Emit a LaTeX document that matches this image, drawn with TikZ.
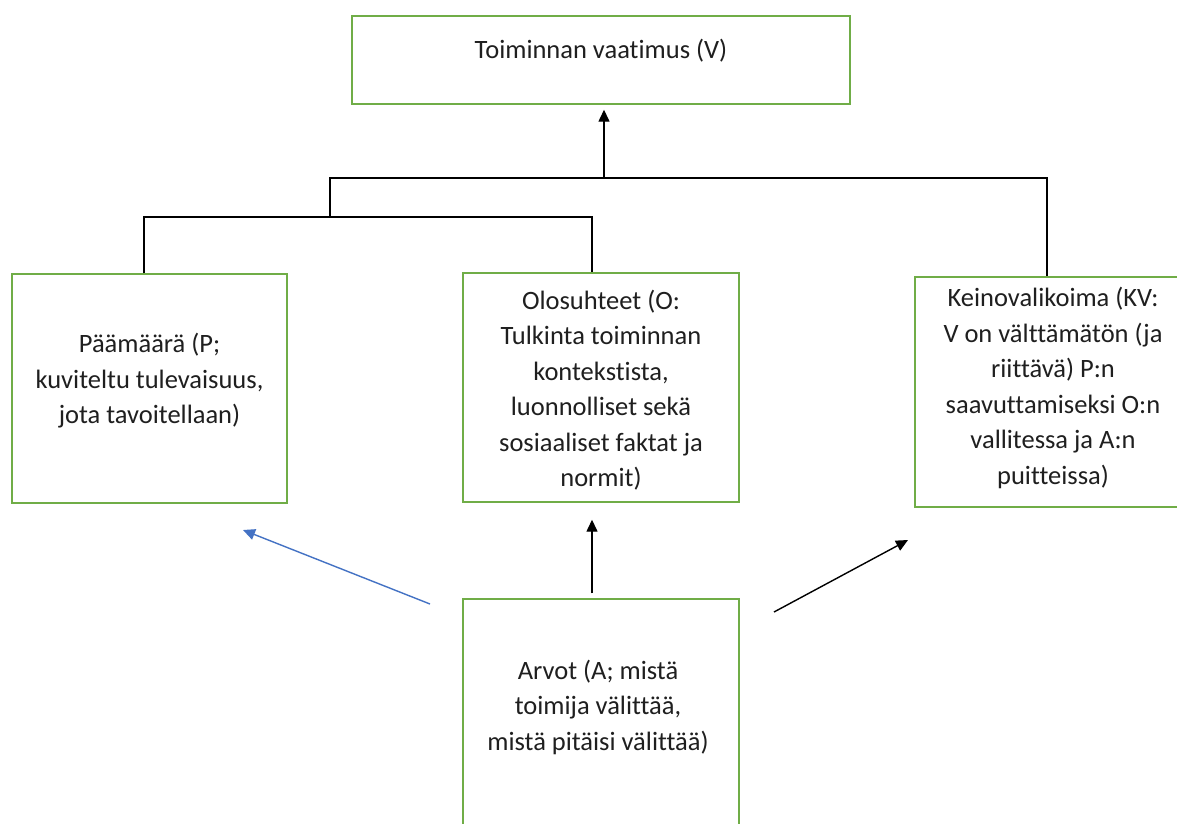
\documentclass[tikz,border=0pt]{standalone}
\usepackage{fontspec}
\setmainfont{Carlito}[Ligatures=NoCommon]
\usetikzlibrary{arrows.meta}
\definecolor{boxgreen}{HTML}{70AD47}
\definecolor{arrblue}{HTML}{4472C4}
\definecolor{txtcol}{HTML}{1F1F1F}
\tikzset{
  boxnode/.style={draw=boxgreen, line width=1.4pt, rectangle, inner sep=0pt},
  txtnode/.style={align=center, inner sep=0pt, text=txtcol, font=\fontsize{26.5}{35.5}\selectfont},
  conn/.style={line width=1.4pt, black},
  arr/.style={line width=1.4pt, black, -{Triangle[length=12pt,width=11pt]}},
  arrb/.style={line width=1.4pt, arrblue, -{Triangle[length=12pt,width=11pt]}}
}
\begin{document}
\begin{tikzpicture}[x=1pt,y=-1pt]
\useasboundingbox[fill=white] (0,0) rectangle (1177,823);
% boxes
\node[boxnode, minimum width=498pt, minimum height=88pt] (V) at (601,60) {};
\node[boxnode, minimum width=275pt, minimum height=229pt] (P) at (149.5,388.5) {};
\node[boxnode, minimum width=276pt, minimum height=229pt] (O) at (601,387.5) {};
\node[boxnode, minimum width=276pt, minimum height=230pt] (K) at (1053,392) {};
\node[boxnode, minimum width=276pt, minimum height=231pt] (A) at (601,714.5) {};
% texts
\node[txtnode] (Vt) at (601,51) {Toiminnan vaatimus (V)};
\node[txtnode] (Pt) at (149.5,381) {Päämäärä (P;\\kuviteltu tulevaisuus,\\jota tavoitellaan)};
\node[txtnode] (Ot) at (601,390) {Olosuhteet (O:\\Tulkinta toiminnan\\kontekstista,\\luonnolliset sekä\\sosiaaliset faktat ja\\normit)};
\node[txtnode] (Kt) at (1053,388) {Keinovalikoima (KV:\\V on välttämätön (ja\\riittävä) P:n\\saavuttamiseksi O:n\\vallitessa ja A:n\\puitteissa)};
\node[txtnode] (At) at (598,707) {Arvot (A; mistä\\toimija välittää,\\mistä pitäisi välittää)};
% junction coordinates
\coordinate (pj) at (144,217);
\coordinate (oj) at (592,217);
\coordinate (mj) at (330,217);
\coordinate (mt) at (330,178);
\coordinate (kt) at (1047,178);
\coordinate (vt) at (604,178);
% tree connectors
\draw[conn] (P.north -| pj) -- (pj) -- (oj) -- (O.north -| oj);
\draw[conn] (mj) -- (mt) -- (kt) -- (K.north -| kt);
\draw[arr, shorten >=5pt] (vt) -- (V.south -| vt);
% arrows from values
\coordinate (bs) at (430,604);
\coordinate (be) at (243,530);
\coordinate (rs) at (774,612);
\coordinate (re) at (908,540);
\coordinate (mx) at (592,0);
\draw[arrb] (bs) -- (be);
\draw[arr, shorten <=5pt, shorten >=17pt] (A.north -| mx) -- (O.south -| mx);
\draw[arr] (rs) -- (re);
\end{tikzpicture}
\end{document}
